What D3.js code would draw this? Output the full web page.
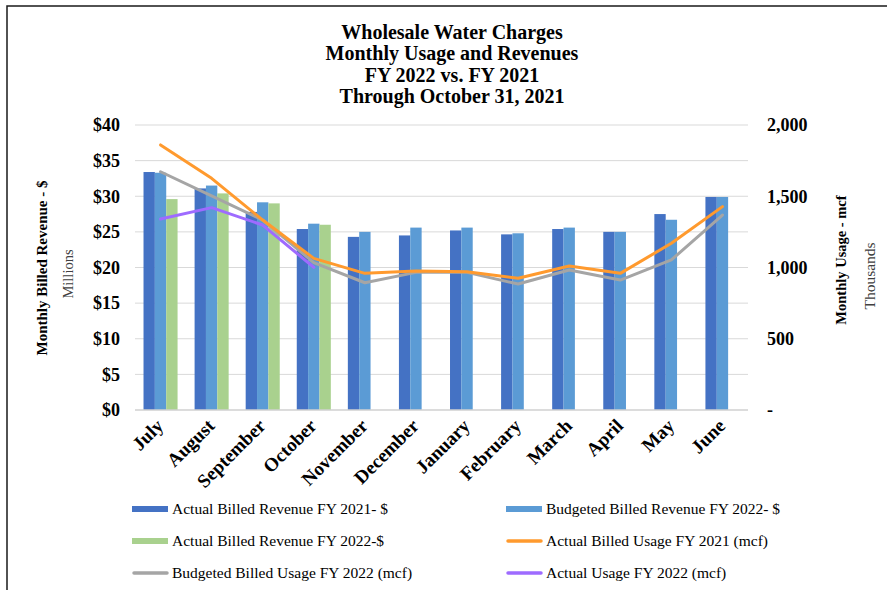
<!DOCTYPE html>
<html>
<head>
<meta charset="utf-8">
<script src="https://cdn.jsdelivr.net/npm/d3@7"></script>
<style>
  body { margin: 0; background: #fff; }
  svg text { font-family: "Liberation Serif", "DejaVu Serif", serif; fill: #000; }
</style>
</head>
<body>
<div id="chart"></div>
<script>
var months = ["July", "August", "September", "October", "November", "December",
              "January", "February", "March", "April", "May", "June"];

// revenue, millions of $
var actualRev2021 = [33.4, 31.1, 27.8, 25.4, 24.3, 24.5, 25.2, 24.65, 25.4, 25.0, 27.5, 29.9];
var budgetRev2022 = [33.3, 31.5, 29.15, 26.15, 25.0, 25.6, 25.6, 24.8, 25.6, 25.0, 26.7, 29.9];
var actualRev2022 = [29.6, 30.4, 29.0, 26.0, null, null, null, null, null, null, null, null];

// usage, thousands of mcf
var actualUsage2021 = [1860, 1626, 1333, 1064, 959, 975, 970, 924, 1010, 959, 1170, 1427];
var budgetUsage2022 = [1672, 1502, 1333, 1034, 893, 966, 966, 884, 982, 912, 1053, 1368];
var actualUsage2022 = [1340, 1420, 1298, 1001];

var leftTicks = [0, 5, 10, 15, 20, 25, 30, 35, 40];
var rightTicks = [0, 500, 1000, 1500, 2000];

var titleLines = ["Wholesale Water Charges", "Monthly Usage and Revenues",
                  "FY 2022 vs. FY 2021", "Through October 31, 2021"];

(function() {
  var width = 887, height = 590;
  var plotLeft = 135, plotRight = 748, plotTop = 125, plotBottom = 410;

  var svg = d3.select("#chart").append("svg")
      .attr("width", width)
      .attr("height", height);

  // frame
  svg.append("path")
      .attr("d", "M7," + height + "V6H" + width)
      .attr("fill", "none")
      .attr("stroke", "#1a1a1a")
      .attr("stroke-width", 1.5);

  var x = d3.scaleBand().domain(months).range([plotLeft, plotRight]);
  var bw = x.bandwidth();
  var barKeys = ["a21", "b22", "a22"];
  var x1 = d3.scaleBand().domain(barKeys).range([bw / 6, bw * 5 / 6]);

  var yL = d3.scaleLinear().domain([0, 40]).range([plotBottom, plotTop]);
  var yR = d3.scaleLinear().domain([0, 2000]).range([plotBottom, plotTop]);

  // gridlines
  svg.append("g").selectAll("line")
      .data(leftTicks.slice(1))
      .enter().append("line")
      .attr("x1", plotLeft).attr("x2", plotRight)
      .attr("y1", function(d) { return yL(d); })
      .attr("y2", function(d) { return yL(d); })
      .attr("stroke", "#d9d9d9")
      .attr("stroke-width", 1);

  // bars
  var barSeries = [
    { key: "a21", values: actualRev2021, color: "#4472c4" },
    { key: "b22", values: budgetRev2022, color: "#5b9bd5" },
    { key: "a22", values: actualRev2022, color: "#a9d18e" }
  ];

  barSeries.forEach(function(s) {
    svg.append("g").selectAll("rect")
      .data(s.values.map(function(v, i) { return { m: months[i], v: v }; })
        .filter(function(d) { return d.v != null; }))
      .enter().append("rect")
      .attr("x", function(d) { return x(d.m) + x1(s.key); })
      .attr("width", x1.bandwidth())
      .attr("y", function(d) { return yL(d.v); })
      .attr("height", function(d) { return yL(0) - yL(d.v); })
      .attr("fill", s.color);
  });

  // baseline
  svg.append("line")
      .attr("x1", plotLeft).attr("x2", plotRight)
      .attr("y1", plotBottom).attr("y2", plotBottom)
      .attr("stroke", "#d0d0d0")
      .attr("stroke-width", 1.5);

  // lines
  var line = d3.line()
      .x(function(d, i) { return x(months[i]) + bw / 2; })
      .y(function(d) { return yR(d); });

  var lineSeries = [
    { values: budgetUsage2022, color: "#a5a5a5" },
    { values: actualUsage2021, color: "#ff9a2e" },
    { values: actualUsage2022, color: "#9e6bff" }
  ];

  lineSeries.forEach(function(s) {
    svg.append("path")
      .attr("d", line(s.values))
      .attr("fill", "none")
      .attr("stroke", s.color)
      .attr("stroke-width", 3)
      .attr("stroke-linejoin", "round")
      .attr("stroke-linecap", "round");
  });

  // left axis
  var axisL = d3.axisLeft(yL).tickValues(leftTicks).tickSize(0).tickPadding(15)
      .tickFormat(function(d) { return "$" + d; });
  var gL = svg.append("g").attr("transform", "translate(" + plotLeft + ",0)").call(axisL);
  gL.select(".domain").remove();
  gL.selectAll("text")
      .style("font-size", "18px")
      .style("font-weight", "bold")
      .style("font-family", "'Liberation Serif', serif")
      .style("fill", "#000");

  // right axis
  var axisR = d3.axisRight(yR).tickValues(rightTicks).tickSize(0).tickPadding(19)
      .tickFormat(function(d) { return d === 0 ? "-" : d3.format(",")(d); });
  var gR = svg.append("g").attr("transform", "translate(" + plotRight + ",0)").call(axisR);
  gR.select(".domain").remove();
  gR.selectAll("text")
      .style("font-size", "18px")
      .style("font-weight", "bold")
      .style("font-family", "'Liberation Serif', serif")
      .style("fill", "#000");

  // x axis labels
  svg.append("g").selectAll("text")
      .data(months)
      .enter().append("text")
      .attr("transform", function(d) {
        return "translate(" + (x(d) + bw / 2 + 4) + ",427) rotate(-45)";
      })
      .attr("text-anchor", "end")
      .style("font-size", "19px")
      .style("font-weight", "bold")
      .text(function(d) { return d; });

  // axis titles
  svg.append("text")
      .attr("transform", "translate(47,268) rotate(-90)")
      .attr("text-anchor", "middle")
      .style("font-size", "15px")
      .style("font-weight", "bold")
      .text("Monthly Billed Revenue - $");
  svg.append("text")
      .attr("transform", "translate(73,274) rotate(-90)")
      .attr("text-anchor", "middle")
      .style("font-size", "14.5px")
      .style("fill", "#404040")
      .text("Millions");
  svg.append("text")
      .attr("transform", "translate(846,260) rotate(-90)")
      .attr("text-anchor", "middle")
      .style("font-size", "14.5px")
      .style("font-weight", "bold")
      .text("Monthly Usage - mcf");
  svg.append("text")
      .attr("transform", "translate(875,276) rotate(-90)")
      .attr("text-anchor", "middle")
      .style("font-size", "15.5px")
      .style("fill", "#404040")
      .text("Thousands");

  // title
  svg.append("g").selectAll("text")
      .data(titleLines)
      .enter().append("text")
      .attr("x", 452)
      .attr("y", function(d, i) { return 39 + i * 21.3; })
      .attr("text-anchor", "middle")
      .style("font-size", "20px")
      .style("font-weight", "bold")
      .text(function(d) { return d; });

  // legend
  var legendItems = [
    { label: "Actual Billed Revenue FY 2021- $", color: "#4472c4", type: "bar" },
    { label: "Budgeted Billed Revenue FY 2022- $", color: "#5b9bd5", type: "bar" },
    { label: "Actual Billed Revenue FY 2022-$", color: "#a9d18e", type: "bar" },
    { label: "Actual Billed Usage FY 2021 (mcf)", color: "#ff9a2e", type: "line" },
    { label: "Budgeted Billed Usage FY 2022 (mcf)", color: "#a5a5a5", type: "line" },
    { label: "Actual Usage FY 2022 (mcf)", color: "#9e6bff", type: "line" }
  ];
  var legendX = [132, 506], legendY = [509, 541, 573];

  var lg = svg.append("g").selectAll("g")
      .data(legendItems)
      .enter().append("g")
      .attr("transform", function(d, i) {
        return "translate(" + legendX[i % 2] + "," + legendY[Math.floor(i / 2)] + ")";
      });

  lg.filter(function(d) { return d.type === "bar"; })
    .append("rect")
      .attr("x", 0).attr("y", -3)
      .attr("width", 36).attr("height", 6)
      .attr("fill", function(d) { return d.color; });

  lg.filter(function(d) { return d.type === "line"; })
    .append("line")
      .attr("x1", 2).attr("x2", 35)
      .attr("stroke", function(d) { return d.color; })
      .attr("stroke-width", 3.5)
      .attr("stroke-linecap", "round");

  lg.append("text")
      .attr("x", 40)
      .attr("y", 5)
      .style("font-size", "15.5px")
      .text(function(d) { return d.label; });
})();
</script>
</body>
</html>
